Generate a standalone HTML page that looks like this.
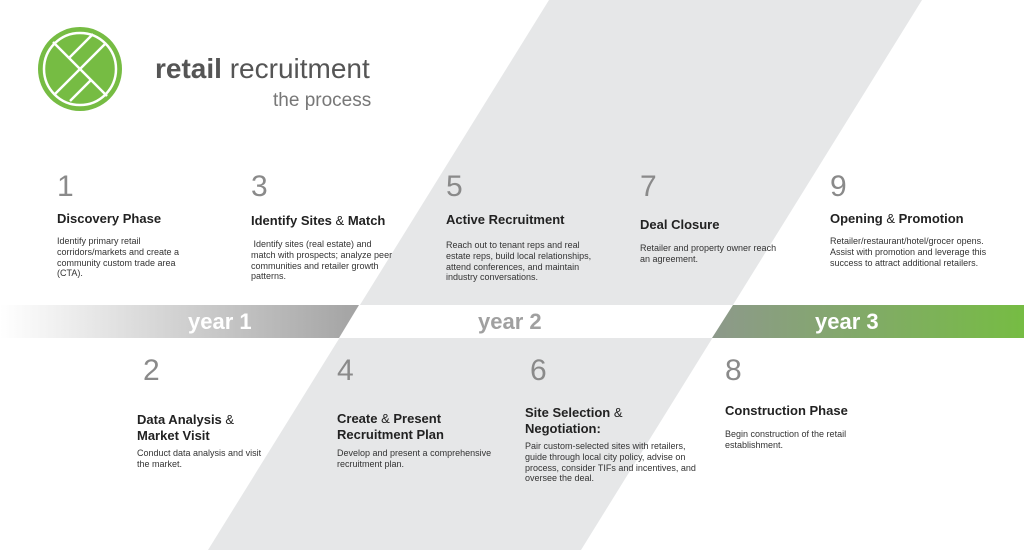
<!DOCTYPE html>
<html><head><meta charset="utf-8"><style>
body{margin:0;width:1024px;height:550px;overflow:hidden;background:#fff;font-family:"Liberation Sans",sans-serif;position:relative}
.a{position:absolute}
.n{position:absolute;font-size:30px;color:#8a8a8a;font-weight:300;line-height:30px}
.h{position:absolute;font-size:13px;font-weight:bold;color:#222;line-height:16px;white-space:nowrap}
.h span{font-weight:normal}
.b{position:absolute;font-size:9px;color:#333;line-height:10.8px}
.y{position:absolute;top:305px;height:33px;font-size:22px;font-weight:bold;line-height:33px;color:#fff}
</style></head><body>
<svg class="a" style="left:0;top:0" width="1024" height="550">
<defs>
<linearGradient id="g1" x1="0" x2="1"><stop offset="0" stop-color="#fff"/><stop offset="1" stop-color="#a3a3a3"/></linearGradient>
<linearGradient id="g3" x1="0" x2="1"><stop offset="0" stop-color="#8d998b"/><stop offset="1" stop-color="#76bc43"/></linearGradient>
</defs>
<polygon points="549,0 922,0 581,550 208,550" fill="#e6e7e8"/>
<rect x="0" y="305" width="1024" height="33" fill="#fff"/>
<polygon points="0,305 359,305 339,338 0,338" fill="url(#g1)"/>
<polygon points="733,305 1024,305 1024,338 712,338" fill="url(#g3)"/>
<circle cx="80" cy="69" r="42" fill="#76bc43"/>
<circle cx="80" cy="69" r="36" fill="none" stroke="#fff" stroke-width="2.5"/>
<g stroke="#fff" stroke-width="2.5">
<line x1="53" y1="42" x2="107" y2="96"/>
<line x1="54" y1="95" x2="106" y2="43"/>
<line x1="69" y1="58" x2="93" y2="34"/>
<line x1="91" y1="80" x2="70" y2="101"/>
</g>
</svg>
<div class="a" style="left:155px;top:52px;font-size:28px;color:#555;line-height:34px"><span style="font-weight:bold">retail</span> recruitment</div>
<div class="a" style="left:273px;top:89px;font-size:19px;color:#777;line-height:24px">the process</div>

<div class="y" style="left:188px">year 1</div>
<div class="y" style="left:478px;color:#a0a0a0">year 2</div>
<div class="y" style="left:815px">year 3</div>

<div class="n" style="left:57px;top:172px">1</div>
<div class="h" style="left:57px;top:211px">Discovery Phase</div>
<div class="b" style="left:57px;top:236px;width:128px">Identify primary retail corridors/markets and create a community custom trade area (CTA).</div>

<div class="n" style="left:251px;top:172px">3</div>
<div class="h" style="left:251px;top:213px">Identify Sites <span>&amp;</span> Match</div>
<div class="b" style="left:251px;top:239px;width:145px">&nbsp;Identify sites (real estate) and match with prospects; analyze peer communities and retailer growth patterns.</div>

<div class="n" style="left:446px;top:172px">5</div>
<div class="h" style="left:446px;top:212px">Active Recruitment</div>
<div class="b" style="left:446px;top:240px;width:148px">Reach out to tenant reps and real estate reps, build local relationships, attend conferences, and maintain industry conversations.</div>

<div class="n" style="left:640px;top:172px">7</div>
<div class="h" style="left:640px;top:217px">Deal Closure</div>
<div class="b" style="left:640px;top:243px;width:140px">Retailer and property owner reach an agreement.</div>

<div class="n" style="left:830px;top:172px">9</div>
<div class="h" style="left:830px;top:211px">Opening <span>&amp;</span> Promotion</div>
<div class="b" style="left:830px;top:236px;width:162px">Retailer/restaurant/hotel/grocer opens. Assist with promotion and leverage this success to attract additional retailers.</div>

<div class="n" style="left:143px;top:356px">2</div>
<div class="h" style="left:137px;top:412px">Data Analysis <span>&amp;</span><br>Market Visit</div>
<div class="b" style="left:137px;top:448px;width:135px">Conduct data analysis and visit the market.</div>

<div class="n" style="left:337px;top:356px">4</div>
<div class="h" style="left:337px;top:411px">Create <span>&amp;</span> Present<br>Recruitment Plan</div>
<div class="b" style="left:337px;top:448px;width:160px">Develop and present a comprehensive recruitment plan.</div>

<div class="n" style="left:530px;top:356px">6</div>
<div class="h" style="left:525px;top:405px">Site Selection <span>&amp;</span><br>Negotiation:</div>
<div class="b" style="left:525px;top:441px;width:172px">Pair custom-selected sites with retailers, guide through local city policy, advise on process, consider TIFs and incentives, and oversee the deal.</div>

<div class="n" style="left:725px;top:356px">8</div>
<div class="h" style="left:725px;top:403px">Construction Phase</div>
<div class="b" style="left:725px;top:429px;width:130px">Begin construction of the retail establishment.</div>
</body></html>
